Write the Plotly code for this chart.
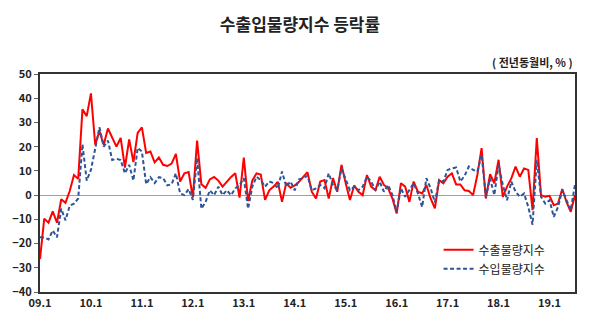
import plotly.graph_objects as go

tick_labels = ["09.1", "10.1", "11.1", "12.1", "13.1", "14.1", "15.1", "16.1", "17.1", "18.1", "19.1"]

export_vol = [
    -26.4, -9.7, -11.4, -6.7, -11.4, -1.7, -3.2, 1.7, 8.3, 6.7, 35.4, 32.6,
    42.0, 20.8, 26.4, 20.8, 27.5, 23.6, 20.0, 23.6, 11.4, 23.0, 13.6, 25.7,
    28.0, 17.4, 18.0, 13.5, 15.5, 12.5, 12.0, 13.0, 17.0, 5.6, 9.0, 9.5,
    -1.0, 22.5, 4.5, 3.0, 6.5, 7.5, 6.0, 3.5, 5.5, 7.5, 9.0, -1.0,
    15.5, -2.5, 6.0, 9.0, 8.5, -2.0, 2.0, 3.5, 5.5, -2.8, 5.0, 3.0,
    4.0, 5.5, 7.5, 9.5, 1.4, -1.4, 5.6, 6.2, -1.4, 7.0, 1.4, 12.5,
    4.9, -2.0, 4.0, 1.4, 0.0, 8.3, 3.5, 2.0, 7.6, 4.2, 2.8, -1.4,
    -7.6, 4.9, 3.5, -2.8, 5.6, 1.4, 0.7, 4.2, -1.4, -5.5, 6.2, 4.9,
    7.6, 9.0, 4.4, 4.4, 2.0, 1.7, 0.0, 8.3, 19.4, -1.4, 8.6, 4.9,
    14.6, -0.7, 3.5, 6.9, 11.8, 7.6, 11.0, 10.4, -6.2, 23.6, 0.0, -0.7,
    -0.3, -4.2, -3.5, 2.5, -2.8, -6.9, 0.0,
]

import_vol = [
    -17.4, -17.5, -18.3, -14.6, -17.4, -5.6, -10.4, -4.4, -3.5, -1.4, 21.0, 6.0,
    10.4, 19.0, 28.0, 20.0, 22.5, 14.5, 15.0, 14.5, 9.0, 12.5, 6.0, 19.5,
    18.0, 4.5, 7.4, 5.0, 7.4, 7.0, 4.0, 4.5, 9.0, 0.7, 0.0, 2.5,
    -2.0, 15.3, -5.6, -2.8, 2.0, 0.0, 3.5, 0.0, 2.0, 0.0, 2.8, 4.2,
    7.0, -5.6, 3.5, 7.6, 6.2, 3.5, 5.6, 5.0, 2.8, 9.7, 3.5, 5.6,
    2.0, 6.5, 7.0, 8.0, 2.0, 2.8, 4.2, 2.8, 9.0, 4.2, 2.0, 11.0,
    6.2, 2.0, 3.5, 2.0, 3.5, 7.6, 5.6, 2.0, 5.6, 1.4, 4.2, 0.0,
    -7.0, 2.8, -0.7, 2.0, 4.9, 0.7, -4.9, 7.0, 2.8, -3.0, 6.2, 5.6,
    10.4, 11.0, 11.4, 5.6, 8.0, 11.8, 10.4, 9.7, 16.7, -0.7, 6.9, 0.0,
    12.5, 4.2, -2.1, 5.6, 1.4, -0.7, 0.7, -4.9, -12.2, 14.6, -0.7, -3.5,
    -2.1, -9.0, -4.9, 2.1, -2.1, -6.2, 4.4,
]

months = list(range(len(export_vol)))
tick_pos = [12 * k for k in range(len(tick_labels))]

FONT = "Noto Sans CJK KR"

fig = go.Figure()
fig.add_trace(go.Scatter(
    x=months, y=export_vol, mode="lines", name="수출물량지수",
    line=dict(color="#FF0000", width=2),
))
fig.add_trace(go.Scatter(
    x=months, y=import_vol, mode="lines", name="수입물량지수",
    line=dict(color="#2E5597", width=2, dash="4px,2.5px"),
))

fig.update_layout(
    width=600, height=329,
    paper_bgcolor="white", plot_bgcolor="white",
    margin=dict(l=37, r=25, t=74, b=37),
    font=dict(family=FONT, color="#222222"),
    title=dict(text="<b>수출입물량지수 등락률</b>", x=0.5, xanchor="center",
               y=0.925, yanchor="middle", font=dict(size=17, family=FONT, color="#222222")),
    showlegend=True,
    legend=dict(x=0.745, y=0.26, xanchor="left", yanchor="top",
                bgcolor="rgba(0,0,0,0)", font=dict(size=12, family=FONT, color="#222222"),
                tracegroupgap=0, itemwidth=30),
    annotations=[dict(text="<b>( 전년동월비, % )</b>", xref="paper", yref="paper",
                      x=1.0, y=1.0, xanchor="right", yanchor="bottom", yshift=2,
                      showarrow=False, font=dict(size=11, family=FONT, color="#222222"))],
)

fig.update_xaxes(
    range=[0, len(export_vol) - 1],
    tickmode="array", tickvals=tick_pos, ticktext=tick_labels,
    tickfont=dict(size=11, family=FONT, color="#222222", weight="bold"),
    ticks="", showgrid=False, zeroline=False,
    showline=True, linecolor="#333333", linewidth=2, mirror=True,
)
fig.update_yaxes(
    range=[-40, 50], dtick=10, tickmode="linear", tick0=-40,
    tickfont=dict(size=11, family=FONT, color="#222222", weight="bold"),
    ticks="outside", ticklen=4, tickcolor="#666666",
    showgrid=False, zeroline=True, zerolinecolor="#A0A0A0", zerolinewidth=1,
    showline=True, linecolor="#333333", linewidth=2, mirror=True,
)

fig.write_html("out.html")
